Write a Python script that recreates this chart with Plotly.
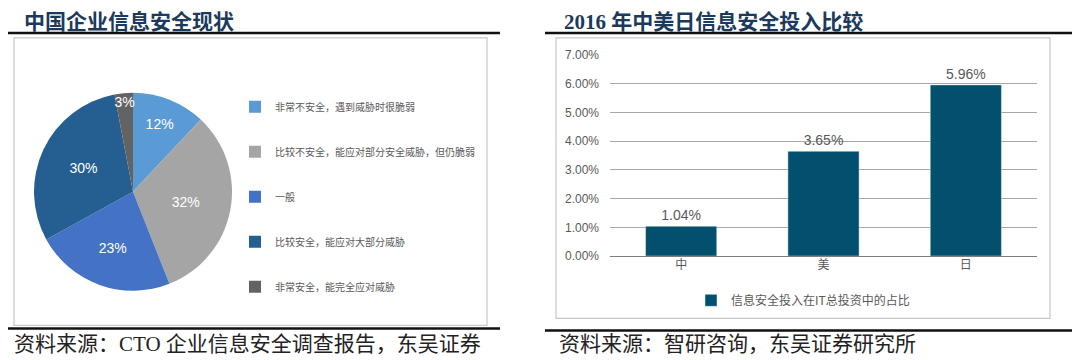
import plotly.graph_objects as go

# ---------------- data ----------------
pie_labels = [
    "非常不安全，遇到威胁时很脆弱",
    "比较不安全，能应对部分安全威胁，但仍脆弱",
    "一般",
    "比较安全，能应对大部分威胁",
    "非常安全，能完全应对威胁",
]
pie_values = [12, 32, 23, 30, 3]
pie_colors = ["#5B9BD5", "#A5A5A5", "#4472C4", "#255E91", "#636363"]

bar_categories = ["中", "美", "日"]
bar_values = [0.0104, 0.0365, 0.0596]
bar_series_name = "信息安全投入在IT总投资中的占比"
y_ticks = [0, 0.01, 0.02, 0.03, 0.04, 0.05, 0.06, 0.07]

left_title = "中国企业信息安全现状"
right_title = "2016 年中美日信息安全投入比较"
left_source = "资料来源：CTO 企业信息安全调查报告，东吴证券"
right_source = "资料来源：智研咨询，东吴证券研究所"

W, H = 1080, 360

# map target screen pixels to paper coordinates (compensating page offset)
def px(x):
    return (x - 8) / W
def py(y):
    return 1 - ((y - 15.2) / 0.956) / H

SANS = "Liberation Sans, Noto Sans CJK SC, sans-serif"
CJK = "Noto Sans CJK SC, sans-serif"
SERIF = "Liberation Serif, Noto Sans CJK SC, serif"

fig = go.Figure()

# ---------------- pie ----------------
cx, cy, r = 133, 191, 103
cy_p = py(cy)
fig.add_trace(go.Pie(
    labels=pie_labels, values=pie_values, sort=False, direction="clockwise",
    marker=dict(colors=pie_colors, line=dict(width=0)),
    texttemplate="%{value}%", textposition="inside", insidetextorientation="horizontal",
    textfont=dict(color="white", size=14, family=SANS),
    domain=dict(x=[px(cx - r), px(cx + r)], y=[cy_p - r / H, cy_p + r / H]),
    showlegend=False, hoverinfo="label+percent",
))

# legend entries for the pie
for i, (lab, col) in enumerate(zip(pie_labels, pie_colors)):
    fig.add_trace(go.Scatter(
        x=[None], y=[None], mode="markers", name=lab,
        marker=dict(symbol="square", size=6, color=col),
        legend="legend", legendgroup=f"g{i}", xaxis="x2", yaxis="y2",
    ))

# ---------------- bars ----------------
fig.add_trace(go.Bar(
    x=bar_categories, y=bar_values, name=bar_series_name,
    marker=dict(color="#03506E"),
    texttemplate="%{y:.2%}", textposition="outside", cliponaxis=False,
    textfont=dict(color="#595959", size=12, family=SANS),
    legend="legend2", showlegend=True,
))

fig.update_layout(
    width=W, height=H, margin=dict(l=0, r=0, t=0, b=0),
    paper_bgcolor="white", plot_bgcolor="white",
    bargap=0.5,
    uniformtext=dict(minsize=14, mode="show"),
    xaxis=dict(domain=[px(610), px(1037)], showgrid=False, showline=False,
               tickfont=dict(color="#595959", size=12, family=CJK), ticks="",
               anchor="y"),
    yaxis=dict(domain=[py(255), py(55)], range=[0, 0.07], tickvals=y_ticks,
               tickformat=".2%", showgrid=True, gridcolor="#A8A8A8", gridwidth=1,
               zeroline=True, zerolinecolor="#7F7F7F", zerolinewidth=1,
               tickfont=dict(color="#595959", size=12, family=SANS),
               ticklabelstandoff=10, anchor="x"),
    xaxis2=dict(domain=[0, 0.01], visible=False, anchor="y2"),
    yaxis2=dict(domain=[0, 0.01], visible=False, anchor="x2"),
    legend=dict(x=px(235), y=py(92), xanchor="left", yanchor="top",
                orientation="v", tracegroupgap=26, itemsizing="constant",
                font=dict(color="#595959", size=10, family=CJK),
                bgcolor="rgba(0,0,0,0)", itemwidth=30),
    legend2=dict(x=px(803), y=py(299), xanchor="center", yanchor="middle",
                 orientation="h", font=dict(color="#595959", size=12, family=CJK),
                 bgcolor="rgba(0,0,0,0)"),
    showlegend=True,
)

# ---------------- decorations ----------------
shapes = [
    dict(type="rect", x0=px(14), x1=px(487), y0=py(324), y1=py(38),
         line=dict(color="#C8C8C8", width=1.2)),
    dict(type="rect", x0=px(556), x1=px(1050), y0=py(317), y1=py(38),
         line=dict(color="#C8C8C8", width=1.2)),
    dict(type="line", x0=px(8), x1=px(500), y0=py(33), y1=py(33),
         line=dict(color="#111111", width=2.5)),
    dict(type="line", x0=px(8), x1=px(500), y0=py(327), y1=py(327),
         line=dict(color="#111111", width=2.5)),
    dict(type="line", x0=px(545), x1=px(1088), y0=py(33), y1=py(33),
         line=dict(color="#111111", width=2.5)),
    dict(type="line", x0=px(545), x1=px(1088), y0=py(329), y1=py(329),
         line=dict(color="#111111", width=2.5)),
]
for s in shapes:
    s.update(xref="paper", yref="paper")
fig.update_layout(shapes=shapes)

annotations = [
    dict(text=f"<b>{left_title}</b>", x=px(22), y=py(22), xanchor="left", yanchor="middle",
         font=dict(size=21, color="#1B3A5C", family=SERIF)),
    dict(text=f"<b>{right_title}</b>", x=px(562), y=py(22), xanchor="left", yanchor="middle",
         font=dict(size=21, color="#1B3A5C", family=SERIF)),
    dict(text=left_source, x=px(12), y=py(342), xanchor="left", yanchor="middle",
         font=dict(size=21, color="#222222", family=SERIF)),
    dict(text=right_source, x=px(557), y=py(342), xanchor="left", yanchor="middle",
         font=dict(size=21, color="#222222", family=SERIF)),
]
for a in annotations:
    a.update(xref="paper", yref="paper", showarrow=False)
fig.update_layout(annotations=annotations)

fig.write_html("out.html")
